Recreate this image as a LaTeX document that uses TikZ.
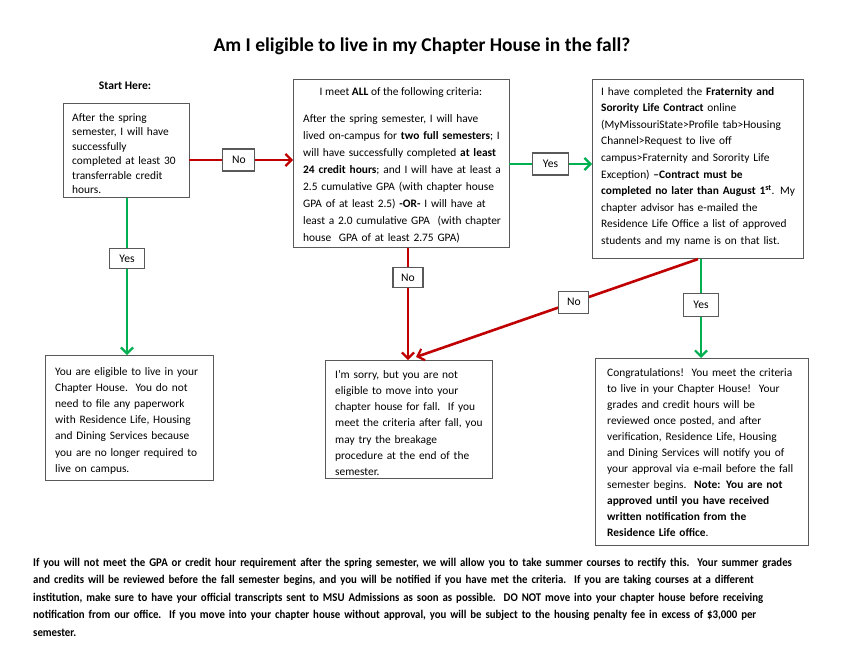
\documentclass[tikz,border=0pt]{standalone}
\usepackage{fontspec}
\setmainfont{Carlito}
\newfontfamily\footfont{Carlito}[FakeStretch=0.915]
\usetikzlibrary{arrows.meta}
\definecolor{cred}{HTML}{C00000}
\definecolor{cgreen}{HTML}{00B050}
\definecolor{cbox}{HTML}{595959}
\tikzset{
  box/.style={draw=cbox, line width=1.1pt, fill=white, anchor=north west, inner sep=0pt},
  txt/.style={anchor=base west, inner sep=0pt, align=left},
  tag/.style={draw=cbox, line width=1.1pt, fill=white, inner sep=0pt, font=\fontsize{11.6}{14}\selectfont},
  redarr/.style={draw=cred, line width=2.6pt, -{Straight Barb[length=6pt,width=12pt,line width=2.2pt]}},
  grnarr/.style={draw=cgreen, line width=2.6pt, -{Straight Barb[length=6pt,width=12pt,line width=2.2pt]}},
}
\begin{document}
\begin{tikzpicture}[x=1pt,y=-1pt]
\useasboundingbox[fill=white] (0,0) rectangle (850,656);

\node[anchor=base, font=\fontsize{19.5}{22}\selectfont\bfseries] (title) at (422,51) {Am I eligible to live in my Chapter House in the fall?};
\node[anchor=base, font=\fontsize{11.6}{14}\selectfont\bfseries] (start) at (125,89) {Start Here:};

% boxes
\node[box, minimum width=126pt, minimum height=94pt] (b1) at (63,103) {};
\node[box, minimum width=216pt, minimum height=168pt] (b2) at (293,79) {};
\node[box, minimum width=211pt, minimum height=179pt] (b3) at (592,79) {};
\node[box, minimum width=168pt, minimum height=125pt] (b4) at (45,355) {};
\node[box, minimum width=167pt, minimum height=118pt] (b5) at (325,360) {};
\node[box, minimum width=213pt, minimum height=187pt] (b6) at (595,358) {};

% texts
\node[txt, text width=120pt, font=\fontsize{11.4}{14.5}\selectfont] (t1) at (72,121)
{After the spring\\semester, I will have\\successfully\\completed at least 30\\transferrable credit\\hours.};
\node[anchor=base, inner sep=0pt, font=\fontsize{11.4}{14}\selectfont] (t2h) at (401,95)
{I meet \textbf{ALL} of the following criteria:};
\node[txt, text width=210pt, font=\fontsize{11.4}{17}\selectfont] (t2) at (303,122)
{After the spring semester, I will have\\lived on-campus for \textbf{two full semesters}; I\\will have successfully completed \textbf{at least}\\\textbf{24 credit hours}; and I will have at least a\\2.5 cumulative GPA (with chapter house\\GPA of at least 2.5) \textbf{-OR-} I will have at\\least a 2.0 cumulative GPA\ \ (with chapter\\house\ \ GPA of at least 2.75 GPA)};
\node[txt, text width=205pt, font=\fontsize{11.4}{16.6}\selectfont] (t3) at (601,95)
{I have completed the \textbf{Fraternity and}\\\textbf{Sorority Life Contract} online\\(MyMissouriState>Profile tab>Housing\\Channel>Request to live off\\campus>Fraternity and Sorority Life\\Exception) \textbf{–Contract must be}\\\textbf{completed no later than August 1\textsuperscript{st}}. My\\chapter advisor has e-mailed the\\Residence Life Office a list of approved\\students and my name is on that list.};
\node[txt, text width=160pt, font=\fontsize{11.4}{16.2}\selectfont] (t4) at (55,375)
{You are eligible to live in your\\Chapter House.\ \ You do not\\need to file any paperwork\\with Residence Life, Housing\\and Dining Services because\\you are no longer required to\\live on campus.};
\node[txt, text width=160pt, font=\fontsize{11.4}{16.3}\selectfont] (t5) at (335,378)
{I’m sorry, but you are not\\eligible to move into your\\chapter house for fall.\ \ If you\\meet the criteria after fall, you\\may try the breakage\\procedure at the end of the\\semester.};
\node[txt, text width=205pt, font=\fontsize{11.4}{16}\selectfont] (t6) at (607,376)
{Congratulations!\ \ You meet the criteria\\to live in your Chapter House!\ \ Your\\grades and credit hours will be\\reviewed once posted, and after\\verification, Residence Life, Housing\\and Dining Services will notify you of\\your approval via e-mail before the fall\\semester begins.\ \ \textbf{Note: You are not}\\\textbf{approved until you have received}\\\textbf{written notification from the}\\\textbf{Residence Life office}.};

% connectors
\coordinate (b1r) at (189,160);
\coordinate (b2l) at (293,160);
\draw[redarr] (b1r) -- (b2l) node[tag, pos=0.48, minimum width=32pt, minimum height=22pt] (n1) {No};
\coordinate (b2r) at (509,164);
\coordinate (b3l) at (592,164);
\draw[grnarr] (b2r) -- (b3l) node[tag, midway, minimum width=36pt, minimum height=22pt] (y2) {Yes};
\draw[grnarr] (b1.south -| 127,0) -- (b4.north -| 127,0) node[tag, pos=0.386, minimum width=35pt, minimum height=20pt] (y1) {Yes};
\draw[redarr] (b2.south -| 408,0) -- (b5.north -| 408,0) node[tag, pos=0.265, minimum width=30pt, minimum height=20pt] (n2) {No};
\draw[redarr] (b3.south -| 698,0) -- (416,357) node[tag, pos=0.44, minimum width=30pt, minimum height=22pt] (n3) {No};
\draw[grnarr] (b3.south -| 701,0) -- (b6.north -| 701,0) node[tag, pos=0.465, minimum width=35pt, minimum height=23pt] (y3) {Yes};

% footer
\node[txt, text width=820pt, font=\fontsize{11.8}{17.5}\selectfont\footfont\bfseries] (foot) at (33,566)
{If you will not meet the GPA or credit hour requirement after the spring semester, we will allow you to take summer courses to rectify this.\ \ Your summer grades\\and credits will be reviewed before the fall semester begins, and you will be notified if you have met the criteria.\ \ If you are taking courses at a different\\institution, make sure to have your official transcripts sent to MSU Admissions as soon as possible.\ \ DO NOT move into your chapter house before receiving\\notification from our office.\ \ If you move into your chapter house without approval, you will be subject to the housing penalty fee in excess of \$3,000 per\\semester.};
\end{tikzpicture}
\end{document}
